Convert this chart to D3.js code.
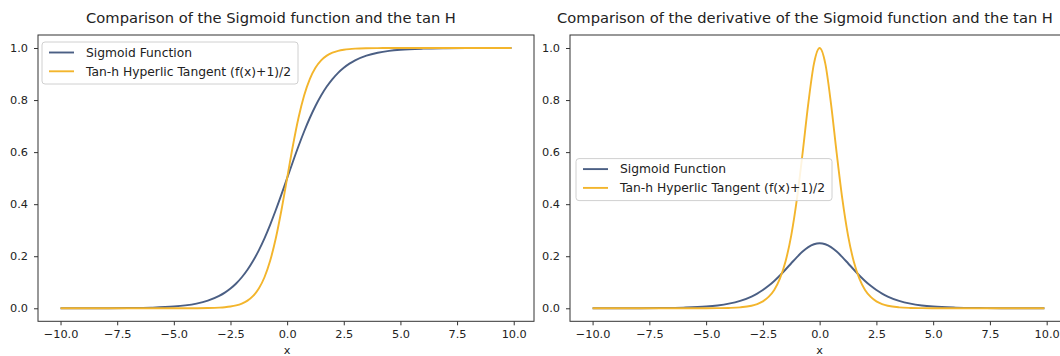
<!DOCTYPE html>
<html><head><meta charset="utf-8">
<script src="https://cdn.jsdelivr.net/npm/d3@7"></script>
<style>
body{margin:0;background:#fff}
svg{display:block}
text{font-family:"DejaVu Sans",sans-serif;fill:#222}
</style></head><body>
<svg id="c" width="1060" height="356"></svg>
<script>
// x sample positions
const xs = [-10,-9,-8,-7,-6,-5,-4.5,-4,-3.5,-3,-2.75,-2.5,-2.25,-2,-1.75,-1.5,-1.25,-1,-0.75,-0.5,-0.25,0,
  0.25,0.5,0.75,1,1.25,1.5,1.75,2,2.25,2.5,2.75,3,3.5,4,4.5,5,6,7,8,9,9.9];
// left panel
const sigmoidValues = [0.0000,0.0001,0.0003,0.0009,0.0025,0.0067,0.0110,0.0180,0.0293,0.0474,0.0601,0.0759,0.0953,0.1192,0.1480,0.1824,0.2227,0.2689,0.3208,0.3775,0.4378,0.5000,
  0.5622,0.6225,0.6792,0.7311,0.7773,0.8176,0.8520,0.8808,0.9047,0.9241,0.9399,0.9526,0.9707,0.9820,0.9890,0.9933,0.9975,0.9991,0.9997,0.9999,1.0000];
const tanhValues = [0.0000,0.0000,0.0000,0.0000,0.0000,0.0000,0.0001,0.0003,0.0009,0.0025,0.0041,0.0067,0.0110,0.0180,0.0293,0.0474,0.0759,0.1192,0.1824,0.2689,0.3775,0.5000,
  0.6225,0.7311,0.8176,0.8808,0.9241,0.9526,0.9707,0.9820,0.9890,0.9933,0.9959,0.9975,0.9991,0.9997,0.9999,1.0000,1.0000,1.0000,1.0000,1.0000,1.0000];
// right panel
const dSigmoidValues = [0.0000,0.0001,0.0003,0.0009,0.0025,0.0066,0.0109,0.0177,0.0285,0.0452,0.0565,0.0701,0.0862,0.1050,0.1261,0.1491,0.1731,0.1966,0.2179,0.2350,0.2461,0.2500,
  0.2461,0.2350,0.2179,0.1966,0.1731,0.1491,0.1261,0.1050,0.0862,0.0701,0.0565,0.0452,0.0285,0.0177,0.0109,0.0066,0.0025,0.0009,0.0003,0.0001,0.0000];
const dTanhValues = [0.0000,0.0000,0.0000,0.0000,0.0000,0.0002,0.0005,0.0013,0.0036,0.0099,0.0163,0.0266,0.0436,0.0707,0.1140,0.1807,0.2804,0.4200,0.5966,0.7864,0.9400,1.0000,
  0.9400,0.7864,0.5966,0.4200,0.2804,0.1807,0.1140,0.0707,0.0436,0.0266,0.0163,0.0099,0.0036,0.0013,0.0005,0.0002,0.0000,0.0000,0.0000,0.0000,0.0000];

const xTicks = [-10,-7.5,-5,-2.5,0,2.5,5,7.5,10];
const yTicks = [0,0.2,0.4,0.6,0.8,1.0];
const seriesNames = ["Sigmoid Function","Tan-h Hyperlic Tangent (f(x)+1)/2"];
const titles = ["Comparison of the Sigmoid function and the tan H",
  "Comparison of the derivative of the Sigmoid function and the tan H"];
const xLabel = "x";
const colors = ["#4b5f84","#f3b52c"];

const panels = [
  {l:38, r:534, t:35, b:321.3, series:[sigmoidValues,tanhValues], title:titles[0], titleX:271, legend:{x:42,y:42}},
  {l:570, r:1067, t:35, b:321.3, series:[dSigmoidValues,dTanhValues], title:titles[1], titleX:805, legend:{x:576,y:158.6}}
];

const svg = d3.select("#c");
const fs = 11.3;
const lfs = 12.3;
const fmt = d3.format(".1f");

panels.forEach(p => {
  const x = d3.scaleLinear().domain([-10.995, 10.895]).range([p.l, p.r]);
  const y = d3.scaleLinear().domain([-0.05, 1.05]).range([p.b, p.t]);
  const g = svg.append("g");

  // curves
  const line = d3.line().x((d,i)=>x(xs[i])).y(d=>y(d)).curve(d3.curveMonotoneX);
  p.series.forEach((s,k)=>{
    g.append("path").datum(s).attr("d",line).attr("fill","none")
      .attr("stroke",colors[k]).attr("stroke-width",1.9);
  });

  // frame
  g.append("rect").attr("x",p.l).attr("y",p.t).attr("width",p.r-p.l).attr("height",p.b-p.t)
    .attr("fill","none").attr("stroke","#333").attr("stroke-width",1);

  // x axis
  const xa = g.append("g").attr("transform",`translate(0,${p.b})`)
    .call(d3.axisBottom(x).tickValues(xTicks).tickFormat(fmt).tickSize(4).tickPadding(5));
  xa.select(".domain").remove();
  xa.selectAll("line").attr("stroke","#333");
  xa.selectAll("text").attr("font-size",fs).attr("font-family","DejaVu Sans").attr("fill","#222");

  // y axis
  const ya = g.append("g").attr("transform",`translate(${p.l},0)`)
    .call(d3.axisLeft(y).tickValues(yTicks).tickFormat(fmt).tickSize(4).tickPadding(6));
  ya.select(".domain").remove();
  ya.selectAll("line").attr("stroke","#333");
  ya.selectAll("text").attr("font-size",fs).attr("font-family","DejaVu Sans").attr("fill","#222");

  // x label
  g.append("text").attr("x", x(0)).attr("y",354).attr("text-anchor","middle")
    .attr("font-size",fs).text(xLabel);

  // title
  g.append("text").attr("x",p.titleX).attr("y",23).attr("text-anchor","middle")
    .attr("font-size",14.7).text(p.title);

  // legend
  const lg = g.append("g").attr("transform",`translate(${p.legend.x},${p.legend.y})`);
  const box = lg.append("rect").attr("rx",3).attr("ry",3).attr("fill","#fff").attr("fill-opacity",0.85)
    .attr("stroke","#d0d0d0").attr("stroke-width",1);
  let maxW = 0;
  seriesNames.forEach((n,k)=>{
    const cy = 10.5 + k*18.8;
    lg.append("line").attr("x1",7).attr("x2",32).attr("y1",cy).attr("y2",cy)
      .attr("stroke",colors[k]).attr("stroke-width",1.9);
    const t = lg.append("text").attr("x",44).attr("y",cy+4.3).attr("font-size",lfs).text(n);
    maxW = Math.max(maxW, t.node().getComputedTextLength());
  });
  box.attr("x",0).attr("y",0).attr("width",44+maxW+7).attr("height",42);
});
</script>
</body></html>
